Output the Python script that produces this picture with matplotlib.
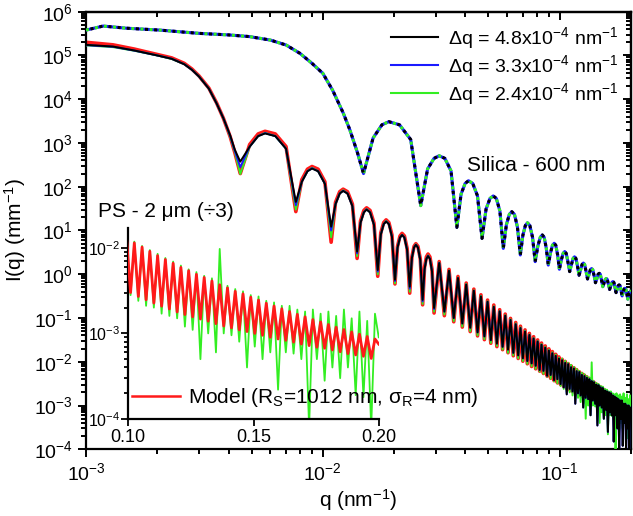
import numpy as np
import matplotlib
matplotlib.use("Agg")
import matplotlib.pyplot as plt
from matplotlib.lines import Line2D
from matplotlib.ticker import LogLocator, NullFormatter, FormatStrFormatter, FixedLocator

plt.rcParams['font.family'] = ['Liberation Sans', 'DejaVu Sans']
plt.rcParams['mathtext.fontset'] = 'custom'
plt.rcParams['mathtext.rm'] = 'Liberation Sans'
plt.rcParams['mathtext.it'] = 'Liberation Sans:italic'
plt.rcParams['mathtext.bf'] = 'Liberation Sans:bold'
plt.rcParams['mathtext.default'] = 'regular'

# ---------------- Silica 600 nm (three resolutions overlap) ----------------
silica_q = [0.0010, 0.00118, 0.00148, 0.00205, 0.0030, 0.0040, 0.0049, 0.0060, 0.0070, 0.0080,
            0.0090, 0.0100, 0.0110, 0.0122, 0.0130, 0.0140, 0.01485,
            0.0163, 0.01776, 0.0190, 0.02107, 0.02349, 0.0259,
            0.02769, 0.02947, 0.0310, 0.03274, 0.03477, 0.0368,
            0.03834, 0.03988, 0.0412, 0.04294, 0.04497, 0.0470,
            0.04889, 0.05078, 0.0524, 0.05402, 0.05591, 0.0578,
            0.05955, 0.0613, 0.0628, 0.06442, 0.06631, 0.0682,
            0.06992, 0.07163, 0.0731, 0.07481, 0.07681, 0.0788,
            0.0808, 0.0828, 0.0845, 0.0860, 0.08775, 0.0895,
            0.09136, 0.09321, 0.0948, 0.09627, 0.09799, 0.0997,
            0.10156, 0.10341, 0.1050, 0.10656, 0.10838, 0.1102,
            0.11206, 0.11391, 0.1155, 0.11706, 0.11888, 0.1207,
            0.12252, 0.12434, 0.1259, 0.12746, 0.12928, 0.1311,
            0.13296, 0.13481, 0.1364, 0.13796, 0.13978, 0.1416,
            0.14346, 0.14531, 0.1469, 0.14846, 0.15028, 0.1521,
            0.15392, 0.15574, 0.1573, 0.15886, 0.16068, 0.1625,
            0.16436, 0.16621, 0.1678, 0.16936, 0.17118, 0.1730,
            0.17486, 0.17671, 0.1783, 0.17986, 0.18168, 0.1835,
            0.18532, 0.18714, 0.1887, 0.19026, 0.19208, 0.1939,
            0.1960, 0.1990, 0.2000]
silica_I = [3.8e5, 4.7e5, 4.2e5, 3.8e5, 3.2e5, 2.95e5, 2.7e5, 2.25e5, 1.73e5, 1.12e5,
            6.6e4, 3.9e4, 1.6e4, 4.8e3, 2.0e3, 600, 200,
            1.3e3, 2.6e3, 3.07e3, 2.6e3, 1.2e3, 37,
            255, 445, 510, 445, 230, 11.8,
            68, 119, 137, 119, 62, 6.6,
            31, 54, 61.6, 54, 28, 3.9,
            13.5, 23.4, 26.9, 23.4, 12, 2.76,
            7.8, 13, 15, 13, 7, 1.94,
            4.3, 7, 7.9, 7, 4, 1.62,
            3.0, 4.6, 5.1, 4.6, 2.8, 1.3,
            2.1, 3.0, 3.3, 3.0, 1.9, 1.15,
            1.65, 2.3, 2.5, 2.3, 1.55, 0.95,
            1.25, 1.68, 1.8, 1.68, 1.15, 0.78,
            0.98, 1.27, 1.35, 1.27, 0.92, 0.64,
            0.78, 1.0, 1.05, 1.0, 0.72, 0.52,
            0.63, 0.76, 0.80, 0.76, 0.58, 0.45,
            0.54, 0.65, 0.68, 0.65, 0.5, 0.38,
            0.45, 0.55, 0.57, 0.55, 0.42, 0.32,
            0.38, 0.46, 0.48, 0.46, 0.36, 0.27,
            0.36, 0.41, 0.40]

# ---------------- PS 2 um : low-q part ----------------
ps_q_low = [0.0010, 0.0013, 0.0016, 0.0020, 0.0023, 0.0026, 0.0028, 0.0030, 0.0033, 0.00356,
            0.0038, 0.00406, 0.00425]
model_low = [2.0e5, 1.75e5, 1.4e5, 1.05e5, 8.8e4, 6.6e4, 4.9e4, 3.4e4, 1.8e4, 8.2e3, 3.7e3, 1.4e3, 600]
black_low = [1.75e5, 1.6e5, 1.3e5, 1.0e5, 8.4e4, 6.3e4, 4.7e4, 3.3e4, 1.75e4, 8.0e3, 3.7e3, 1.5e3, 700]
blue_low = [1.72e5, 1.58e5, 1.29e5, 1.0e5, 8.4e4, 6.3e4, 4.7e4, 3.3e4, 1.75e4, 8.0e3, 3.7e3, 1.45e3, 650]
green_low = [1.7e5, 1.55e5, 1.28e5, 1.0e5, 8.3e4, 6.3e4, 4.7e4, 3.3e4, 1.75e4, 8.0e3, 3.7e3, 1.4e3, 620]

# positions of minima / maxima of the oscillations
ps_q_min = [0.00448, 0.00769, 0.01084, 0.01395, 0.01705, 0.02016, 0.02327, 0.02638, 0.02949,
            0.03259, 0.0357, 0.0388, 0.0419, 0.0450, 0.0481, 0.0512, 0.0543, 0.0574, 0.0605,
            0.0637, 0.0668, 0.0699, 0.0730, 0.0761, 0.0792, 0.0823, 0.0854, 0.0885, 0.0916, 0.0947, 0.0978,
            0.1009, 0.1040, 0.1071, 0.1102, 0.1133, 0.1164, 0.1195, 0.1226, 0.1257, 0.1288, 0.1319,
            0.1350, 0.1381, 0.1412, 0.1443, 0.1474, 0.1505, 0.1536, 0.1567, 0.1598, 0.1629, 0.1660,
            0.1691, 0.1722, 0.1753, 0.1784, 0.1815, 0.1846, 0.1877, 0.1908, 0.1939, 0.1970]
ps_q_max = [0.0057, 0.0090, 0.01218, 0.0153, 0.0185, 0.0216, 0.0247, 0.0278, 0.0310,
            0.0341, 0.0372, 0.0403, 0.0434, 0.0465, 0.0496, 0.0527, 0.0558, 0.0589, 0.0620,
            0.0652, 0.0683, 0.0714, 0.0745, 0.0776, 0.0807, 0.0838, 0.0869, 0.0900, 0.0931, 0.0962, 0.0993,
            0.1024, 0.1055, 0.1086, 0.1117, 0.1148, 0.1179, 0.1210, 0.1241, 0.1272, 0.1303, 0.1334,
            0.1365, 0.1396, 0.1427, 0.1458, 0.1489, 0.1520, 0.1551, 0.1582, 0.1613, 0.1644, 0.1675,
            0.1706, 0.1737, 0.1768, 0.1799, 0.1830, 0.1861, 0.1892, 0.1923, 0.1954, 0.1985]
# shoulders of the first (well resolved) maxima
ps_q_sh = [0.00491, 0.00533, 0.0063, 0.00699,
           0.00815, 0.00861, 0.00955, 0.0102,
           0.01131, 0.01178, 0.01271, 0.01333,
           0.01442, 0.0149, 0.01583, 0.01644,
           0.01756, 0.01807, 0.0190, 0.01958,
           0.02066, 0.02117, 0.0221, 0.02269,
           0.02377, 0.02427, 0.0252, 0.02579,
           0.02688, 0.02737, 0.02831, 0.0289]

# Model (red)
model_min = [200, 27, 5.4, 2.3, 0.9, 0.6, 0.37, 0.2, 0.13,
             0.113, 0.082, 0.062, 0.049, 0.039, 0.032, 0.0265, 0.0222, 0.0189, 0.0161,
             0.0137, 0.0119, 0.0103, 0.0090, 0.0078, 0.0069, 0.0061, 0.0054, 0.0047, 0.0042, 0.0037, 0.0033,
             0.0030, 0.0027, 0.00247, 0.00226, 0.00208, 0.00193, 0.00178, 0.00166, 0.00156, 0.00147, 0.00139,
             0.0013, 0.00122, 0.00116, 0.0011, 0.00105, 0.001, 0.00095, 0.0009, 0.00086, 0.00083, 0.00079,
             0.00075, 0.00072, 0.00069, 0.00067, 0.00064, 0.00061, 0.00058, 0.00056, 0.00054, 0.00051]
model_max = [1850, 290, 88, 33, 17.5, 8.6, 5.0, 2.9, 1.95,
             1.29, 0.89, 0.63, 0.457, 0.339, 0.257, 0.198, 0.155, 0.123, 0.098,
             0.079, 0.065, 0.0535, 0.0445, 0.0374, 0.0316, 0.0268, 0.0230, 0.0197, 0.0171, 0.0148, 0.0129,
             0.0114, 0.0102, 0.0091, 0.0081, 0.0073, 0.0066, 0.0059, 0.0054, 0.0049, 0.0045, 0.0041,
             0.0037, 0.0034, 0.0031, 0.0029, 0.00265, 0.00245, 0.00225, 0.00209, 0.00194, 0.0018, 0.00167,
             0.00156, 0.00145, 0.00136, 0.00127, 0.00118, 0.00111, 0.00104, 0.00098, 0.00092, 0.00086]
model_sh = [925, 1610, 1610, 830, 145, 252, 252, 130, 44, 77, 77, 40, 16.5, 28.7, 28.7, 14.8,
            8.8, 15.2, 15.2, 7.9, 4.3, 7.5, 7.5, 3.9, 2.5, 4.35, 4.35, 2.25, 1.45, 2.5, 2.5, 1.3]
model_end = 0.00075

# Data, dq = 4.8e-4 (black)
black_min = [374, 45, 12.2, 3.3, 1.25, 0.75, 0.52, 0.26, 0.17,
             0.14, 0.10, 0.075, 0.06, 0.047, 0.038, 0.031, 0.026, 0.022, 0.019,
             0.016, 0.014, 0.012, 0.0104, 0.0092, 0.0081, 0.0065, 0.0062, 0.0048, 0.0050, 0.0038, 0.0040,
             0.0031, 0.0026, 0.0018, 0.0024, 0.0021, 0.0011, 0.0019, 0.0017, 0.0009, 0.0015, 0.0014,
             0.0006, 0.0013, 0.0011, 0.00035, 0.0010, 0.0009, 0.0005, 0.0008, 0.00025, 0.0007, 0.0006,
             0.00015, 0.0006, 0.0003, 0.00009, 0.0005, 0.00012, 0.0004, 0.00008, 0.0003, 0.00007]
black_max = [1650, 260, 80, 30, 16, 7.9, 4.7, 2.6, 1.8,
             1.2, 0.82, 0.58, 0.42, 0.31, 0.235, 0.18, 0.142, 0.113, 0.09,
             0.072, 0.059, 0.049, 0.041, 0.034, 0.029, 0.0245, 0.021, 0.018, 0.0156, 0.0136, 0.0118,
             0.0108, 0.0094, 0.0088, 0.0075, 0.0070, 0.0061, 0.0058, 0.0050, 0.0047, 0.0043, 0.0040,
             0.0036, 0.0034, 0.0030, 0.0029, 0.0026, 0.0025, 0.0022, 0.0021, 0.0020, 0.0019, 0.0017,
             0.0016, 0.0015, 0.0014, 0.0013, 0.0013, 0.0011, 0.0011, 0.0010, 0.0010, 0.0009]
data_sh = [825, 1435, 1435, 740, 130, 226, 226, 117, 40, 70, 70, 36, 15, 26, 26, 13.5,
           8, 14, 14, 7.2, 4.0, 6.9, 6.9, 3.6, 2.35, 4.1, 4.1, 2.1, 1.3, 2.26, 2.26, 1.17]
black_end = 0.0006

# Data, dq = 3.3e-4 (blue): differs from black only in the first oscillations
blue_min_first = [280, 38, 10, 3.0, 1.15, 0.7, 0.47, 0.24, 0.16]
blue_max_first = [1680, 265, 81, 30.5, 16.2, 7.9, 4.75, 2.65, 1.82]

# Data, dq = 2.4e-4 (green)
green_min = [195, 30, 7, 2.6, 1.0, 0.62, 0.4, 0.21, 0.14,
             0.12, 0.085, 0.064, 0.05, 0.04, 0.033, 0.027, 0.023, 0.019, 0.016,
             0.014, 0.012, 0.0104, 0.0090, 0.0079, 0.0069, 0.0060, 0.0053, 0.0046, 0.0041, 0.0036, 0.0032,
             0.0028, 0.0024, 0.0021, 0.0020, 0.0017, 0.0016, 0.0015, 0.0012, 0.0011, 0.0005, 0.0010,
             0.0006, 0.0010, 0.00095, 0.0008, 0.0004, 0.0007, 0.0005, 0.0006, 0.00022, 0.0006, 0.00058,
             0.0005, 0.00008, 0.0005, 0.00028, 0.0004, 0.0003, 0.0004, 0.00019, 0.00018, 0.00008]
green_max = [1700, 270, 83, 31, 16.5, 8.0, 4.8, 2.7, 1.85,
             1.22, 0.84, 0.6, 0.43, 0.32, 0.24, 0.185, 0.146, 0.116, 0.093,
             0.075, 0.061, 0.051, 0.042, 0.035, 0.030, 0.0255, 0.022, 0.019, 0.0165, 0.0145, 0.0125,
             0.0118, 0.0105, 0.0094, 0.0085, 0.0076, 0.0069, 0.0062, 0.0056, 0.0052, 0.0047, 0.0044,
             0.0097, 0.0036, 0.0033, 0.0031, 0.0028, 0.0027, 0.0024, 0.0023, 0.0021, 0.0021, 0.0019,
             0.0018, 0.0019, 0.0017, 0.0018, 0.0016, 0.0019, 0.0015, 0.0018, 0.0014, 0.0017]
green_end = 0.0009

legend_labels = [r'$\Delta$q = 4.8x10$^{-4}$ nm$^{-1}$',
                 r'$\Delta$q = 3.3x10$^{-4}$ nm$^{-1}$',
                 r'$\Delta$q = 2.4x10$^{-4}$ nm$^{-1}$']


def assemble(low, mins, maxs, end, sh):
    out = list(low)
    for a, b in zip(mins, maxs):
        out += [a, b]
    out.append(end)
    out += list(sh)
    return np.array(out, dtype=float)


ps_q_raw = assemble(ps_q_low, ps_q_min, ps_q_max, 0.2, ps_q_sh)
order = np.argsort(ps_q_raw)
ps_q = ps_q_raw[order]
ps_model = assemble(model_low, model_min, model_max, model_end, model_sh)[order]
ps_black = assemble(black_low, black_min, black_max, black_end, data_sh)[order]
ps_blue = assemble(blue_low, blue_min_first + black_min[9:], blue_max_first + black_max[9:],
                   black_end, data_sh)[order]
ps_green = assemble(green_low, green_min, green_max, green_end, data_sh)[order]

# ---------------- figure ----------------
fig = plt.figure(figsize=(6.33, 5.16), dpi=100)
ax = fig.add_axes([0.1359, 0.1293, 0.8609, 0.8480])

ax.plot(ps_q, ps_model, color='#ff1a1a', lw=2.6, zorder=2)
ax.plot(ps_q, ps_green, color='#33ee22', lw=1.4, zorder=3)
ax.plot(ps_q, ps_blue, color='#1a1aff', lw=1.4, zorder=4)
ax.plot(ps_q, ps_black, color='black', lw=1.4, zorder=5)

ax.plot(silica_q, silica_I, color='#1a1aff', lw=2.2, zorder=6)
ax.plot(silica_q, silica_I, color='#33ee22', lw=2.2, ls=(0, (1, 2)), zorder=7)
ax.plot(silica_q, silica_I, color='black', lw=2.2, ls=(1.5, (1, 2)), zorder=8)

ax.set_xscale('log')
ax.set_yscale('log')
ax.set_xlim(1e-3, 0.2)
ax.set_ylim(1e-4, 1e6)
ax.yaxis.set_major_locator(LogLocator(base=10, numticks=30))
ax.yaxis.set_minor_locator(LogLocator(base=10, subs=np.arange(2, 10), numticks=30))
ax.yaxis.set_minor_formatter(NullFormatter())
ax.xaxis.set_minor_formatter(NullFormatter())
ax.tick_params(which='both', direction='out', width=1.4, labelsize=14, top=False, right=False)
ax.tick_params(which='major', length=6)
ax.tick_params(which='minor', length=3.5)
for s in ax.spines.values():
    s.set_linewidth(1.6)

secx = ax.secondary_xaxis('top')
secx.tick_params(which='both', direction='in', width=1.4, labeltop=False)
secx.tick_params(which='major', length=6)
secx.tick_params(which='minor', length=3.5)
secx.xaxis.set_major_formatter(NullFormatter())
secx.xaxis.set_minor_formatter(NullFormatter())
secx.spines['top'].set_linewidth(1.6)
secy = ax.secondary_yaxis('right')
secy.yaxis.set_major_locator(LogLocator(base=10, numticks=30))
secy.yaxis.set_minor_locator(LogLocator(base=10, subs=np.arange(2, 10), numticks=30))
secy.tick_params(which='both', direction='in', width=1.4, labelright=False)
secy.tick_params(which='major', length=6)
secy.tick_params(which='minor', length=3.5)
secy.yaxis.set_major_formatter(NullFormatter())
secy.yaxis.set_minor_formatter(NullFormatter())
secy.spines['right'].set_linewidth(1.6)

ax.set_xlabel(r'q (nm$^{-1}$)', fontsize=15, labelpad=2)
ax.set_ylabel(r'I(q) (mm$^{-1}$)', fontsize=15, labelpad=4)

handles = [Line2D([], [], color='black', lw=1.5),
           Line2D([], [], color='#1a1aff', lw=1.5),
           Line2D([], [], color='#33ee22', lw=1.5)]
ax.legend(handles, legend_labels, loc='upper left', bbox_to_anchor=(0.618, 0.952),
          bbox_transform=fig.transFigure, frameon=False, fontsize=14,
          handlelength=2.4, handletextpad=0.5, labelspacing=0.12, borderpad=0, borderaxespad=0)

fig.text(0.738, 0.680, 'Silica - 600 nm', fontsize=15, va='center', ha='left')
fig.text(0.155, 0.591, 'PS - 2 \u03bcm (\u00f73)', fontsize=15, va='center', ha='left')

# ---------------- inset ----------------
axi = fig.add_axes([0.2027, 0.188, 0.3956, 0.370])
axi.patch.set_alpha(0)
axi.plot(ps_q, ps_green, color='#33ee22', lw=1.3, zorder=2)
axi.plot(ps_q, ps_model, color='#ff1a1a', lw=2.0, zorder=3)
axi.set_yscale('log')
axi.set_xlim(0.1, 0.2)
axi.set_ylim(1e-4, 1.7e-2)
axi.spines['top'].set_visible(False)
axi.spines['right'].set_visible(False)
for s in ['left', 'bottom']:
    axi.spines[s].set_linewidth(1.6)
axi.xaxis.set_major_locator(FixedLocator([0.10, 0.15, 0.20]))
axi.xaxis.set_major_formatter(FormatStrFormatter('%.2f'))
axi.yaxis.set_major_locator(LogLocator(base=10, numticks=10))
axi.yaxis.set_minor_locator(LogLocator(base=10, subs=np.arange(2, 10), numticks=10))
axi.yaxis.set_minor_formatter(NullFormatter())
axi.tick_params(which='both', direction='out', width=1.3)
axi.tick_params(which='major', length=5)
axi.tick_params(which='minor', length=3)
axi.tick_params(axis='x', labelsize=13, pad=2)
axi.tick_params(axis='y', labelsize=11.5, pad=1)

model_handle = Line2D([], [], color='#ff1a1a', lw=1.8)
axi.legend([model_handle], [r'Model (R$_S$=1012 nm, $\sigma_R$=4 nm)'], loc='center left',
           bbox_to_anchor=(0.208, 0.229), bbox_transform=fig.transFigure, frameon=False,
           fontsize=15, handlelength=2.3, handletextpad=0.4, borderpad=0, borderaxespad=0)

fig.savefig('out.png', dpi=100)
